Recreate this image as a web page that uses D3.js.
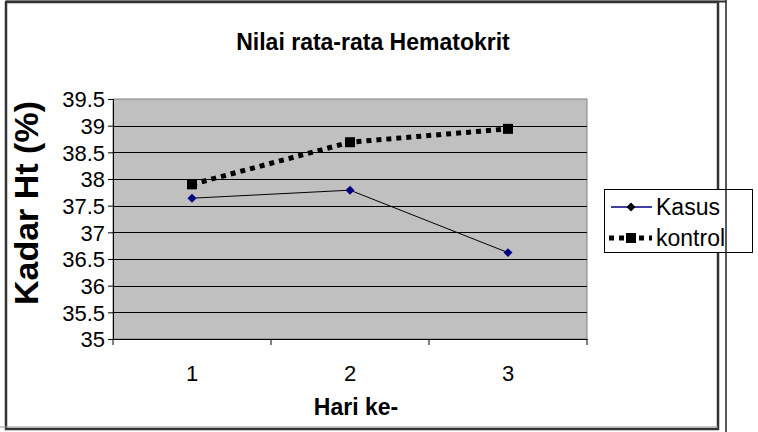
<!DOCTYPE html>
<html><head><meta charset="utf-8">
<script src="https://cdn.jsdelivr.net/npm/d3@7"></script>
<style>html,body{margin:0;padding:0;background:#fff;}svg{display:block;font-family:Arial,"Liberation Sans",sans-serif;}</style>
</head><body>
<svg id="c" width="758" height="432"></svg>
<script>
const categories = ["1", "2", "3"];
const kasus = [37.64, 37.79, 36.62];
const kontrol = [37.9, 38.69, 38.94];
const yTicks = [35, 35.5, 36, 36.5, 37, 37.5, 38, 38.5, 39, 39.5];
const seriesNames = ["Kasus", "kontrol"];
const title = "Nilai rata-rata Hematokrit";
const xTitle = "Hari ke-";
const yTitle = "Kadar Ht (%)";

const svg = d3.select("#c");
const L = 113, R = 587, T = 99, B = 339;
const x = d3.scaleBand().domain(categories).range([L, R]);
const y = d3.scaleLinear().domain([35, 39.5]).range([B, T]);

// outer frame
svg.append("rect").attr("x", 6).attr("y", 2).attr("width", 712).attr("height", 427)
  .attr("fill", "#fff").attr("stroke", "#333").attr("stroke-width", 2.5);
svg.append("line").attr("x1", 0).attr("x2", 718).attr("y1", 427).attr("y2", 427).attr("stroke", "#999").attr("stroke-width", 1);
svg.append("line").attr("x1", 6).attr("x2", 726).attr("y1", 1.5).attr("y2", 1.5).attr("stroke", "#333").attr("stroke-width", 2);

// plot area
svg.append("rect").attr("x", L).attr("y", T).attr("width", R - L).attr("height", B - T)
  .attr("fill", "#c0c0c0").attr("stroke", "#808080").attr("stroke-width", 1);

// gridlines
svg.append("g").selectAll("line").data(yTicks.filter(v => v > 35 && v < 39.5)).join("line")
  .attr("x1", L).attr("x2", R).attr("y1", d => Math.round(y(d)) + 0.5).attr("y2", d => Math.round(y(d)) + 0.5)
  .attr("stroke", "#000").attr("stroke-width", 1);

// y axis
const yAxis = d3.axisLeft(y).tickValues(yTicks).tickSize(5).tickFormat(d => d);
const gy = svg.append("g").attr("transform", `translate(${L},0)`).call(yAxis);
gy.select(".domain").attr("stroke", "#000");
gy.selectAll(".tick line").attr("stroke", "#000");
gy.selectAll("text").attr("font-size", 22).attr("fill", "#000").attr("x", -8).attr("dy", "0.35em");

// x axis
const xAxis = d3.axisBottom(x).tickSize(0).tickFormat(d => d);
const gx = svg.append("g").attr("transform", `translate(0,${B})`).call(xAxis);
gx.select(".domain").attr("stroke", "#000");
gx.selectAll("text").attr("font-size", 22).attr("fill", "#000").attr("y", 42).attr("dy", "0");
const bounds = [L].concat(categories.map(c => x(c) + x.bandwidth()));
svg.append("g").selectAll("line").data(bounds).join("line")
  .attr("x1", d => d).attr("x2", d => d).attr("y1", B).attr("y2", B + 6).attr("stroke", "#000");

// series
const cx = c => x(c) + x.bandwidth() / 2;
const line = d3.line().x((d, i) => cx(categories[i])).y(d => y(d));
svg.append("path").datum(kasus).attr("d", line).attr("fill", "none").attr("stroke", "#000").attr("stroke-width", 1);
svg.append("path").datum(kontrol).attr("d", line).attr("fill", "none").attr("stroke", "#000")
  .attr("stroke-width", 5).attr("stroke-dasharray", "5,5");
svg.append("g").selectAll("path").data(kasus).join("path")
  .attr("d", d3.symbol().type(d3.symbolSquare).size(40))
  .attr("transform", (d, i) => `translate(${cx(categories[i])},${y(d)}) rotate(45)`)
  .attr("fill", "#000080");
svg.append("g").selectAll("rect").data(kontrol).join("rect")
  .attr("x", (d, i) => cx(categories[i]) - 5).attr("y", d => y(d) - 5)
  .attr("width", 10).attr("height", 10).attr("fill", "#000");

// titles
svg.append("text").attr("x", 373).attr("y", 50).attr("text-anchor", "middle")
  .attr("font-size", 23).attr("font-weight", "bold").text(title);
svg.append("text").attr("x", 356).attr("y", 415).attr("text-anchor", "middle")
  .attr("font-size", 23).attr("font-weight", "bold").text(xTitle);
svg.append("text").attr("transform", "translate(38,203) rotate(-90)").attr("text-anchor", "middle")
  .attr("font-size", 34).attr("font-weight", "bold").text(yTitle);

// legend
const lg = svg.append("g");
lg.append("rect").attr("x", 604.5).attr("y", 189.5).attr("width", 148).attr("height", 63)
  .attr("fill", "#fff").attr("stroke", "#000").attr("stroke-width", 1);
const ly = [207, 238];
lg.append("line").attr("x1", 611).attr("x2", 652).attr("y1", ly[0]).attr("y2", ly[0]).attr("stroke", "#000080").attr("stroke-width", 1.5);
lg.append("path").attr("d", d3.symbol().type(d3.symbolSquare).size(40)).attr("transform", `translate(631,${ly[0]}) rotate(45)`).attr("fill", "#000");
lg.append("line").attr("x1", 609).attr("x2", 652).attr("y1", ly[1]).attr("y2", ly[1]).attr("stroke", "#000").attr("stroke-width", 5).attr("stroke-dasharray", "5,5");
lg.append("rect").attr("x", 626).attr("y", ly[1] - 5).attr("width", 10).attr("height", 10).attr("fill", "#000");
lg.selectAll("text").data(seriesNames).join("text")
  .attr("x", 656).attr("y", (d, i) => ly[i]).attr("dy", "0.35em").attr("font-size", 23).text(d => d);

// thin right line over legend
svg.append("line").attr("x1", 726).attr("x2", 726).attr("y1", 0).attr("y2", 432).attr("stroke", "#222").attr("stroke-width", 1.5);
</script>
</body></html>
